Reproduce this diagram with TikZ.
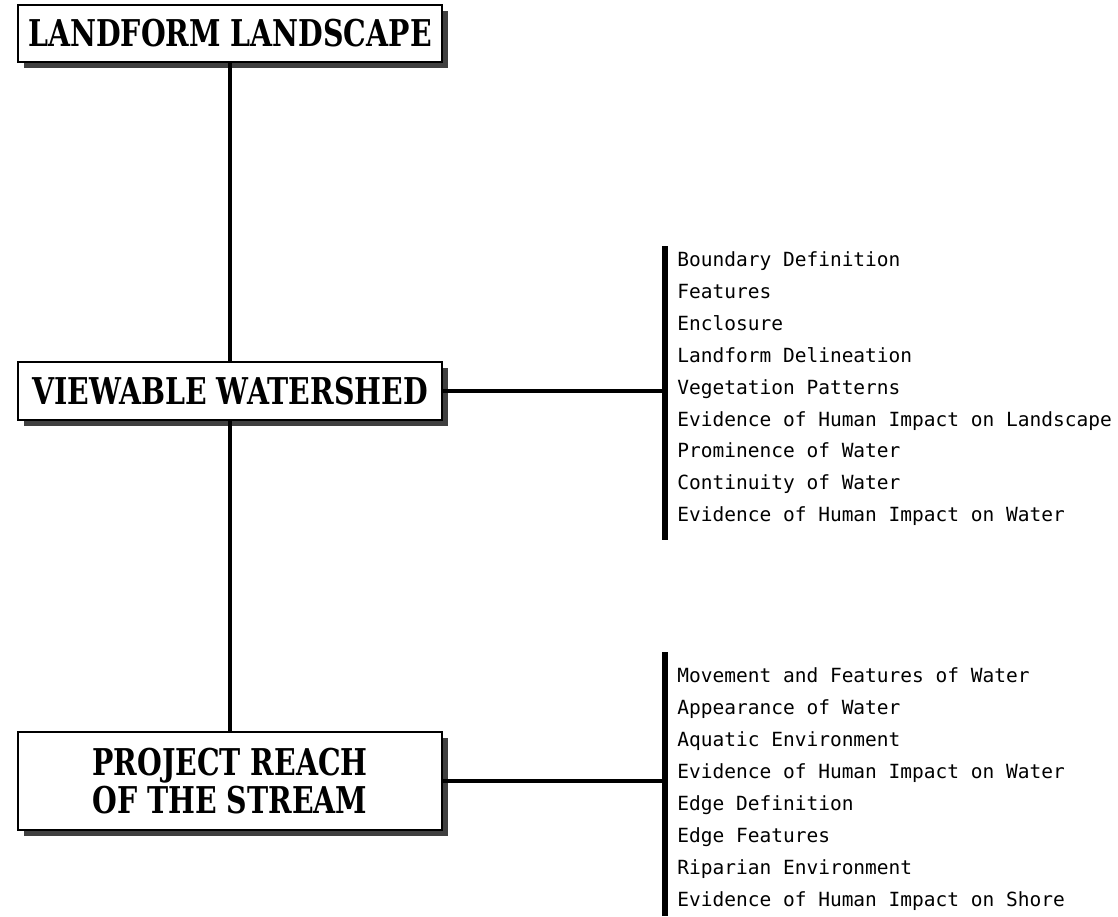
\documentclass[tikz,border=0pt]{standalone}
\usepackage{fontspec}
\usetikzlibrary{shadows}

\newfontfamily\titlefont[FakeStretch=0.77]{DejaVu Serif}
\newfontfamily\listfont{DejaVu Sans Mono}

\tikzset{
  levelbox/.style={draw, line width=1.6pt, fill=white, minimum width=8.48cm,
    align=center, inner sep=0pt,
    font=\titlefont\bfseries\fontsize{21}{22}\selectfont,
    general shadow={fill=black!75, shadow xshift=3.4pt, shadow yshift=-3.4pt}},
  listitem/.style={anchor=west, inner sep=0pt,
    font=\listfont\fontsize{11.1}{13}\selectfont,
    text height=1.6ex, text depth=0.4ex},
  stem/.style={line width=2.6pt},
  link/.style={line width=2pt},
  bracket/.style={line width=3pt},
}

\begin{document}
\begin{tikzpicture}
      \useasboundingbox (0,0) rectangle (22.36,-18.32);

      % The three levels of the landscape
      \node[levelbox, minimum height=1.14cm] (landform) at (4.6,-0.67) {LANDFORM LANDSCAPE};
      \node[levelbox, minimum height=1.16cm] (watershed) at (4.6,-7.82) {VIEWABLE WATERSHED};
      \node[levelbox, minimum height=1.96cm] (reach) at (4.6,-15.62) {PROJECT REACH\\OF THE STREAM};

      % Draw the stem between the levels
      \draw[stem] (landform) -- (watershed);
      \draw[stem] (watershed) -- (reach);

      % Brackets for the two lists
      \coordinate (wtop) at (13.3,-4.92);
      \coordinate (wbot) at (13.3,-10.8);
      \coordinate (rtop) at (13.3,-13.04);
      \coordinate (rbot) at (13.3,-18.32);
      \draw[bracket] (wtop) -- (wbot);
      \draw[bracket] (rtop) -- (rbot);

      \draw[link] (watershed.east) -- (watershed.east -| wtop);
      \draw[link] (reach.east) -- (reach.east -| rtop);

      % Items of the viewable watershed
      \foreach \item [count=\i from 0] in {Boundary Definition, Features, Enclosure,
          Landform Delineation, Vegetation Patterns,
          Evidence of Human Impact on Landscape, Prominence of Water,
          Continuity of Water, Evidence of Human Impact on Water} {
          \node[listitem] (w\i) at (13.54, {-5.24-0.638*\i}) {\item};
      }

      % Items of the project reach
      \foreach \item [count=\i from 0] in {Movement and Features of Water,
          Appearance of Water, Aquatic Environment,
          Evidence of Human Impact on Water, Edge Definition, Edge Features,
          Riparian Environment, Evidence of Human Impact on Shore} {
          \node[listitem] (r\i) at (13.54, {-13.56-0.64*\i}) {\item};
      }
    \end{tikzpicture}
\end{document}
